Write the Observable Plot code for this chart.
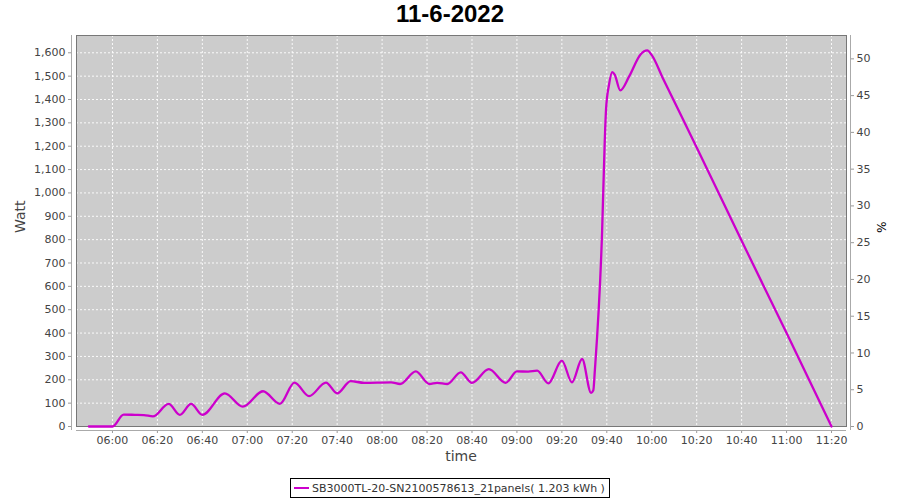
<!DOCTYPE html>
<html>
<head>
<meta charset="utf-8">
<script src="https://cdn.jsdelivr.net/npm/d3@7"></script>
<script src="https://cdn.jsdelivr.net/npm/@observablehq/plot@0.6"></script>
<style>
  html, body { margin: 0; padding: 0; background: #fff; }
  #title { height: 30px; line-height: 30px; text-align: center; font: bold 24px "Liberation Sans", Arial, sans-serif; color: #000; }
  #chart { height: 440px; }
  #chart svg { display: block; }
  #legend { text-align: center; padding-top: 8px; line-height: 0; }
  #legend .box { display: inline-flex; align-items: center; box-sizing: border-box; border: 1px solid #000; height: 20px; line-height: 18px; padding: 0 4px 0 3px; font: 11px "DejaVu Sans", sans-serif; color: #333; }
  #legend .sw { display: inline-block; width: 15px; height: 2px; background: #cc00cc; margin-right: 3px; }
</style>
</head>
<body>
<div id="title">11-6-2022</div>
<div id="chart"></div>
<div id="legend"></div>
<script>
// ---- data ----
const chartTitle = "11-6-2022";
const seriesName = "SB3000TL-20-SN2100578613_21panels( 1.203 kWh )";
const times = ["05:49:30","05:55:00","06:00:00","06:05:00","06:10:00","06:14:00","06:18:00","06:25:00","06:30:00","06:35:00","06:40:00","06:50:00","06:58:00","07:07:00","07:14:30","07:21:00","07:27:30","07:35:00","07:40:00","07:46:00","07:52:00","08:04:00","08:08:00","08:15:00","08:21:00","08:24:30","08:29:00","08:35:00","08:40:00","08:47:30","08:55:00","09:00:00","09:05:00","09:09:00","09:14:00","09:20:00","09:24:30","09:29:00","09:33:00","09:34:00","09:34:40","09:37:55","09:39:05","09:39:40","09:41:00","09:42:24","09:43:30","09:46:00","09:50:00","09:55:00","09:58:00","10:00:00","10:05:00","10:20:00","10:40:00","11:00:00","11:20:00"];
const watts = [0,0,0,51,50,49,43,97,50,97,50,142,85,151,97,188,130,188,142,194,187,189,182,236,182,187,182,232,187,246,187,236,235,239,185,282,189,289,144,155,239,838,1222,1360,1464,1517,1507,1439,1500,1593,1610,1590,1490,1195,795,400,0];
const xTickLabels = ["06:00","06:20","06:40","07:00","07:20","07:40","08:00","08:20","08:40","09:00","09:20","09:40","10:00","10:20","10:40","11:00","11:20"];
const yTicks = [0,100,200,300,400,500,600,700,800,900,1000,1100,1200,1300,1400,1500,1600];
const pctTicks = [0,5,10,15,20,25,30,35,40,45,50];
const xDomainLabels = ["05:44:00","11:26:40"];
const yMax = 1674;
const wattsPerPct = 31.48;

const parseT = s => new Date("2022-06-11T" + (s.length === 5 ? s + ":00" : s) + "Z");
const data = times.map((t, i) => ({t: parseT(t), w: watts[i]}));
const xTicks = xTickLabels.map(parseT);
const fmt = d3.utcFormat("%H:%M");

const plot = Plot.plot({
  width: 900,
  height: 440,
  marginTop: 5,
  marginBottom: 40,
  marginLeft: 71,
  marginRight: 50,
  style: {fontFamily: "DejaVu Sans, sans-serif", fontSize: "11px", color: "#444", background: "#fff"},
  x: {type: "utc", domain: xDomainLabels.map(parseT), insetLeft: 5, insetRight: 4},
  y: {domain: [0, yMax], insetBottom: 4},
  marks: [
    Plot.frame({fill: "#cccccc", stroke: "none", insetLeft: 5, insetRight: 4, insetBottom: 4}),
    Plot.gridX(xTicks, {stroke: "#fff", strokeOpacity: 0.9, strokeDasharray: "2,2", insetBottom: 4}),
    Plot.gridY(yTicks, {stroke: "#fff", strokeOpacity: 0.9, strokeDasharray: "2,2", insetLeft: 5, insetRight: 4}),
    Plot.frame({stroke: "#777", strokeWidth: 1, insetLeft: 5, insetRight: 4, insetBottom: 4}),
    Plot.axisX({ticks: xTicks, tickFormat: fmt, tickSize: 3, tickPadding: 3, label: null, stroke: "#999", fill: "#444"}),
    Plot.axisY({ticks: yTicks, tickFormat: d3.format(","), tickSize: 3, tickPadding: 3, label: null, stroke: "#999", fill: "#444"}),
    Plot.axisY({anchor: "right", ticks: pctTicks.map(p => p * wattsPerPct), tickFormat: v => String(Math.round(v / wattsPerPct)), tickSize: 3, tickPadding: 3, label: null, stroke: "#999", fill: "#444"}),
    Plot.ruleX([xDomainLabels[0]].map(parseT), {stroke: "#aaa", dx: -5}),
    Plot.ruleX([xDomainLabels[1]].map(parseT), {stroke: "#aaa", dx: 4}),
    Plot.ruleY([0], {stroke: "#aaa", dy: 4, insetLeft: 5, insetRight: 4}),
    Plot.line(data, {x: "t", y: "w", stroke: "#cc00cc", strokeWidth: 2.3, curve: "monotone-x"}),
    Plot.text(["time"], {frameAnchor: "bottom", dy: 30, fontSize: 14, fill: "#444"}),
    Plot.text(["Watt"], {frameAnchor: "left", dx: -51, rotate: -90, fontSize: 14, fill: "#444"}),
    Plot.text(["%"], {frameAnchor: "right", dx: 30, rotate: 90, fontSize: 12, fill: "#000"})
  ]
});
document.getElementById("chart").appendChild(plot);
document.getElementById("title").textContent = chartTitle;
document.getElementById("legend").innerHTML = '<span class="box"><span class="sw"></span><span></span></span>';
document.querySelector("#legend .box span:last-child").textContent = seriesName;
</script>
</body>
</html>
